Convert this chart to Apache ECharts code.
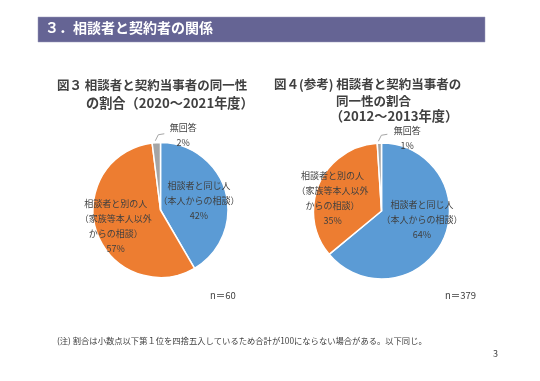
<!DOCTYPE html>
<html><head><meta charset="utf-8">
<script src="https://cdn.jsdelivr.net/npm/echarts@6/dist/echarts.min.js"></script>
<style>html,body{margin:0;padding:0;background:#fff;}#c{width:540px;height:381px;}</style>
</head><body><div id="c"></div>
<script>
const categories = ['相談者と同じ人\n（本人からの相談）', '相談者と別の人\n（家族等本人以外\nからの相談）', '無回答'];
const values2020 = [42, 57, 2];
const values2012 = [64, 35, 1];
const colors = ['#5b9bd5', '#ed7d31', '#a5a5a5'];
const FONT = '"Noto Sans CJK JP", sans-serif';

const chart = echarts.init(document.getElementById('c'), null, {renderer: 'canvas'});

function makeData(values, offsets) {
  return values.map((v, i) => ({
    name: categories[i], value: v,
    itemStyle: {color: colors[i]},
    label: i < 2 ? {position: 'inside', offset: offsets[i]} : {position: 'outside'},
    labelLine: {show: i === 2}
  }));
}

function grayLayout(dxLabel, dyLabel) {
  return function (p) {
    if (p.dataIndex !== 2) return {};
    const r = p.rect;
    const tx = r.x + r.width / 2, ty = r.y;
    return {
      x: r.x + r.width + dxLabel, y: r.y + dyLabel,
      align: 'center', verticalAlign: 'middle',
      labelLinePoints: [[tx - 1, ty - 1], [tx + 2, ty - 7], [tx + 8, ty - 8]]
    };
  };
}

const pieBase = {
  type: 'pie', startAngle: 90, clockwise: true, avoidLabelOverlap: false,
  animation: false,
  itemStyle: {borderColor: '#fff', borderWidth: 1.5},
  label: {
    formatter: p => p.name + '\n' + p.value + '%',
    color: '#404040', fontSize: 9, lineHeight: 15, fontFamily: FONT
  },
  labelLine: {lineStyle: {color: '#a6a6a6', width: 1}},
  emphasis: {disabled: true}
};

chart.setOption({
  backgroundColor: '#fff',
  textStyle: {fontFamily: FONT},
  graphic: [
    {type: 'rect', shape: {x: 38, y: 17, width: 447, height: 25}, style: {fill: '#656494', stroke: '#9a9ab8', lineWidth: 0.5}},
    {type: 'text', left: 45, top: 21, style: {text: '３．相談者と契約者の関係', fill: '#fff', font: 'bold 14px ' + FONT}},
    {type: 'text', left: 57, top: 79, style: {text: '図３ 相談者と契約当事者の同一性', fill: '#404040', font: 'bold 12.5px ' + FONT}},
    {type: 'text', left: 86, top: 96, style: {text: 'の割合（2020～2021年度）', fill: '#404040', font: 'bold 13.2px ' + FONT}},
    {type: 'text', left: 274, top: 78, style: {text: '図４(参考) 相談者と契約当事者の', fill: '#404040', font: 'bold 12.5px ' + FONT}},
    {type: 'text', left: 336, top: 95, style: {text: '同一性の割合', fill: '#404040', font: 'bold 12.5px ' + FONT}},
    {type: 'text', left: 330, top: 109, style: {text: '（2012～2013年度）', fill: '#404040', font: 'bold 13.2px ' + FONT}},
    {type: 'text', left: 210, top: 291, style: {text: 'n＝60', fill: '#404040', font: '9.5px ' + FONT}},
    {type: 'text', left: 445, top: 291, style: {text: 'n＝379', fill: '#404040', font: '9.5px ' + FONT}},
    {type: 'text', left: 57, top: 337, style: {text: '(注) 割合は小数点以下第１位を四捨五入しているため合計が100にならない場合がある。以下同じ。', fill: '#404040', font: '8.3px ' + FONT}},
    {type: 'text', left: 493, top: 349, style: {text: '3', fill: '#404040', font: '9px ' + FONT}}
  ],
  series: [
    Object.assign({}, pieBase, {
      center: [160.5, 210], radius: 67.5,
      data: makeData(values2020, [[3, 0], [-10, 4]]),
      labelLayout: grayLayout(22, -7)
    }),
    Object.assign({}, pieBase, {
      center: [381.5, 211], radius: 68,
      data: makeData(values2012, [[7, -7], [-15, 2]]),
      labelLayout: grayLayout(25, -4)
    })
  ]
});
</script></body></html>
